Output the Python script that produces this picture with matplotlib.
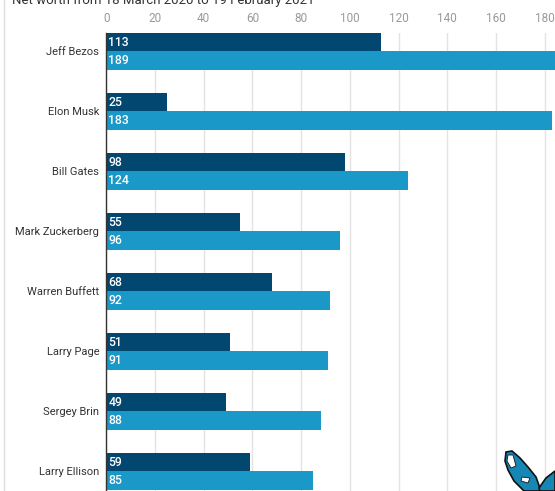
import matplotlib
matplotlib.use("Agg")
import matplotlib.pyplot as plt
from matplotlib.lines import Line2D
from matplotlib.patches import Polygon
import numpy as np

plt.rcParams['font.family'] = ['Roboto', 'DejaVu Sans']

names = ["Jeff Bezos", "Elon Musk", "Bill Gates", "Mark Zuckerberg",
         "Warren Buffett", "Larry Page", "Sergey Brin", "Larry Ellison"]
march_2020 = [113, 25, 98, 55, 68, 51, 49, 59]
feb_2021 = [189, 183, 124, 96, 92, 91, 88, 85]
xticks = [0, 20, 40, 60, 80, 100, 120, 140, 160, 180]
title = "Net worth from 18 March 2020 to 19 February 2021"

dark = "#02476f"
light = "#1a98c8"

W, H = 555, 491
fig = plt.figure(figsize=(W / 100, H / 100), dpi=100)
left_px, top_px = 106.3, 33
ax = fig.add_axes([left_px / W, 0, (W - left_px) / W, (H - top_px) / H])

y = np.arange(len(names))
h = 0.308
ax.barh(y - h / 2, march_2020, height=h, color=dark, zorder=3)
ax.barh(y + h / 2, feb_2021, height=h, color=light, zorder=3)

for yi, v in zip(y, march_2020):
    ax.text(0.9, yi - h / 2, str(v), color="white", fontsize=8.8, fontweight="medium",
            va="center", ha="left", zorder=4)
for yi, v in zip(y, feb_2021):
    ax.text(0.9, yi + h / 2, str(v), color="white", fontsize=8.8, fontweight="medium",
            va="center", ha="left", zorder=4)

px_per_unit = 2.435
ax.set_xlim(0, (W - left_px) / px_per_unit)
ax.set_ylim((H - 51.5) / 60, -h)

ax.xaxis.tick_top()
ax.set_xticks(xticks)
ax.set_xticklabels([str(t) for t in xticks], color="#9a9a9a", fontsize=8.5)
ax.tick_params(axis="x", length=0, pad=6)
ax.set_yticks(y)
ax.set_yticklabels(names, color="#333333", fontsize=8)
ax.tick_params(axis="y", length=0, pad=5)

ax.grid(axis="x", color="#e3e3e3", linewidth=1, zorder=0)
for s in ["top", "right", "bottom"]:
    ax.spines[s].set_visible(False)
ax.spines["left"].set_color("#333333")
ax.spines["left"].set_linewidth(1)
ax.spines["left"].set_zorder(5)

fig.text(12 / W, 1 - 4 / H, title, fontsize=9.5, color="#333333", ha="left", va="baseline")
fig.add_artist(Line2D([3.5 / W, 3.5 / W], [0, 1], color="#dddddd", linewidth=1))

# decorative butterfly logo (bottom right), in pixel coordinates
def px(points):
    return [(x / W, 1 - yy / H) for x, yy in points]

wing_left = px([(506, 452), (512, 451), (520, 458), (528, 467), (536, 477), (541, 491),
                (524, 491), (514, 481), (508, 470), (505, 461)])
wing_right = px([(539, 488), (546, 478), (555, 471), (555, 491), (540, 491)])
for pts in (wing_left, wing_right):
    fig.add_artist(Polygon(pts, closed=True, facecolor="#1686b5", edgecolor="#111111",
                           linewidth=1.2, transform=fig.transFigure, zorder=10))
fig.add_artist(Polygon(px([(508, 455), (513, 455), (516, 466), (511, 468), (507, 461)]),
                       closed=True, facecolor="white", edgecolor="#111111", linewidth=0.6,
                       transform=fig.transFigure, zorder=11))
fig.add_artist(Polygon(px([(522, 477), (530, 478), (528, 483), (521, 481)]),
                       closed=True, facecolor="white", edgecolor="#111111", linewidth=0.6,
                       transform=fig.transFigure, zorder=11))

fig.savefig("out.png", dpi=100)
